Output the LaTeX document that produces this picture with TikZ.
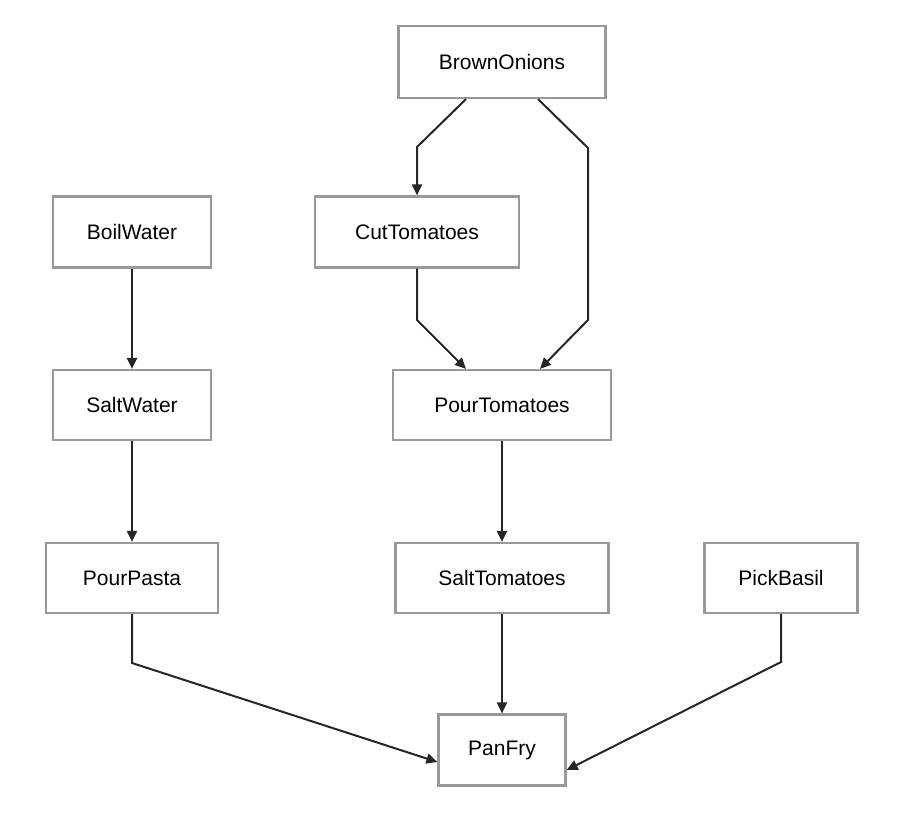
\documentclass[tikz,border=0pt]{standalone}
\usepackage{fontspec}
\setmainfont{Liberation Sans}
\usetikzlibrary{arrows.meta}
\begin{document}
\begin{tikzpicture}[x=1pt,y=-1pt,
  box/.style={draw=gray!80,line width=2.2pt,fill=white,inner sep=0pt,font=\fontsize{21}{24}\selectfont},
  arr/.style={draw=black!85,line width=2pt,-{Triangle[length=11pt,width=10pt]}}]
\useasboundingbox (0,0) rectangle (910,820);
\node[box,minimum width=207,minimum height=72] (bo) at (502,62) {BrownOnions};
\node[box,minimum width=158,minimum height=71] (bw) at (132,232) {BoilWater};
\node[box,minimum width=204,minimum height=71] (ct) at (417,232) {CutTomatoes};
\node[box,minimum width=158,minimum height=70] (sw) at (132,405) {SaltWater};
\node[box,minimum width=218,minimum height=70] (pt) at (502,405) {PourTomatoes};
\node[box,minimum width=172,minimum height=70] (pp) at (132,578) {PourPasta};
\node[box,minimum width=213,minimum height=70] (st) at (502,578) {SaltTomatoes};
\node[box,minimum width=153,minimum height=70] (pb) at (781,578) {PickBasil};
\node[box,minimum width=127,minimum height=71] (pf) at (502,750) {PanFry};
\draw[arr] ([xshift=-36pt]bo.south) -- (417,147) -- (ct.north);
\draw[arr] ([xshift=36pt]bo.south) -- (588,148) -- (588,320) -- ([xshift=38pt]pt.north);
\draw[arr] (ct.south) -- (417,320) -- ([xshift=-36pt]pt.north);
\draw[arr] (bw) -- (sw);
\draw[arr] (sw) -- (pp);
\draw[arr] (pt) -- (st);
\draw[arr] (st) -- (pf);
\draw[arr] (pp.south) -- (132,663) -- ([yshift=-12pt]pf.west);
\draw[arr] (pb.south) -- (781,662) -- ([yshift=-20pt]pf.east);
\end{tikzpicture}
\end{document}
